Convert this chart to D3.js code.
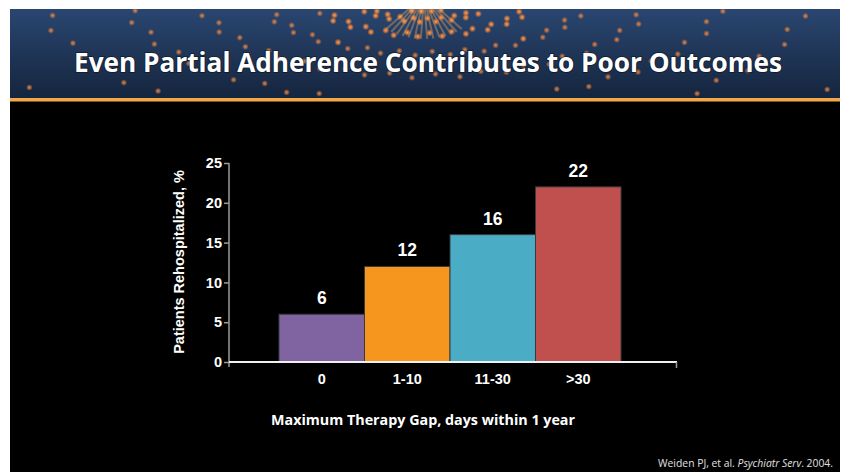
<!DOCTYPE html>
<html>
<head>
<meta charset="utf-8">
<script src="https://cdn.jsdelivr.net/npm/d3@7"></script>
<style>
  html, body { margin: 0; padding: 0; background: #fff; }
  svg { display: block; }
</style>
</head>
<body>
<svg id="chart" width="844" height="472"></svg>
<script>
// chart data
const categories = ["0", "1-10", "11-30", ">30"];
const values = [6, 12, 16, 22];
const barColors = ["#8064A2", "#F7961E", "#4BACC6", "#C0504D"];
const yTicks = [0, 5, 10, 15, 20, 25];

const svg = d3.select("#chart");

// slide background
svg.append("rect").attr("x", 10).attr("y", 9).attr("width", 830).attr("height", 463).attr("fill", "#000");

// header banner
const defs = svg.append("defs");
const grad = defs.append("linearGradient").attr("id", "hdr").attr("x1", 0).attr("y1", 0).attr("x2", 0).attr("y2", 1);
grad.append("stop").attr("offset", "0%").attr("stop-color", "#2a4670");
grad.append("stop").attr("offset", "100%").attr("stop-color", "#15253e");
const glow = defs.append("radialGradient").attr("id", "dot");
glow.append("stop").attr("offset", "0%").attr("stop-color", "#ffb060").attr("stop-opacity", 1);
glow.append("stop").attr("offset", "45%").attr("stop-color", "#e07a3a").attr("stop-opacity", 0.9);
glow.append("stop").attr("offset", "100%").attr("stop-color", "#e07a3a").attr("stop-opacity", 0);
const rayGrad = defs.append("linearGradient").attr("id", "ray").attr("x1", 0).attr("y1", 0).attr("x2", 0).attr("y2", 1);
rayGrad.append("stop").attr("offset", "0%").attr("stop-color", "#ffc070").attr("stop-opacity", 0.8);
rayGrad.append("stop").attr("offset", "100%").attr("stop-color", "#ffc070").attr("stop-opacity", 0);
defs.append("clipPath").attr("id", "hclip").append("rect")
  .attr("x", 10).attr("y", 9).attr("width", 830).attr("height", 89);

svg.append("rect").attr("x", 10).attr("y", 9).attr("width", 830).attr("height", 89).attr("fill", "url(#hdr)");

// decorative rays and dots radiating from the top centre
const hdr = svg.append("g").attr("clip-path", "url(#hclip)");
const cx = 424, cy = -6;
for (let a = 0; a < 30; a++) {
  const ang = Math.PI * (a + 0.5) / 30;
  const dx = Math.cos(ang), dy = Math.sin(ang);
  if (Math.abs(dx) < 0.7) {
    hdr.append("line")
      .attr("x1", cx + dx * 8).attr("y1", cy + dy * 8)
      .attr("x2", cx + dx * 60).attr("y2", cy + dy * 45)
      .attr("stroke", "#ffb868").attr("stroke-opacity", 0.35).attr("stroke-width", 2);
  }
  for (let r = 0; r < 16; r++) {
    const rad = 22 + r * r * 3.2 + r * 14 + (a % 2) * 6;
    const px = cx + dx * rad * 1.7;
    const py = cy + dy * rad * 0.62;
    if (py < 10 || py > 96 || px < 12 || px > 838) continue;
    const near = Math.abs(px - cx) < 100 && py < 45;
    hdr.append("circle").attr("cx", px).attr("cy", py)
      .attr("r", near ? 3.6 : 3.3).attr("fill", "url(#dot)").attr("opacity", near ? 0.95 : 0.75);
  }
}
svg.append("rect").attr("x", 10).attr("y", 98).attr("width", 830).attr("height", 3.5).attr("fill", "#F2A84A");

svg.append("text")
  .attr("x", 428).attr("y", 72)
  .attr("text-anchor", "middle")
  .attr("font-family", "'Open Sans', sans-serif").attr("font-weight", 700)
  .attr("font-size", 26).attr("fill", "#fff")
  .attr("textLength", 708).attr("lengthAdjust", "spacingAndGlyphs")
  .style("paint-order", "stroke").attr("stroke", "rgba(0,0,0,0.35)").attr("stroke-width", 2)
  .text("Even Partial Adherence Contributes to Poor Outcomes");

// scales
const x = d3.scaleBand().domain(categories).range([279, 621]).padding(0);
const y = d3.scaleLinear().domain([0, 25]).range([362, 163]);
const plotLeft = 229, plotRight = 677;

// bars
svg.append("g").selectAll("rect").data(values).join("rect")
  .attr("x", (d, i) => x(categories[i]))
  .attr("y", d => y(d))
  .attr("width", x.bandwidth())
  .attr("height", d => y(0) - y(d))
  .attr("fill", (d, i) => barColors[i])
  .attr("stroke", "#3a3a3a").attr("stroke-width", 1);

// value labels
svg.append("g").selectAll("text").data(values).join("text")
  .attr("x", (d, i) => x(categories[i]) + x.bandwidth() / 2)
  .attr("y", d => y(d) - 10)
  .attr("text-anchor", "middle")
  .attr("font-family", "'Liberation Sans', Arial, sans-serif").attr("font-weight", 700)
  .attr("font-size", 17.5).attr("fill", "#fff")
  .text(d => d);

// y axis
const yAxis = svg.append("g").attr("transform", `translate(${plotLeft},0)`)
  .call(d3.axisLeft(y).tickValues(yTicks).tickSize(5).tickSizeOuter(0));
yAxis.select(".domain").attr("stroke", "#9a9a9a").attr("stroke-width", 1.5)
  .attr("d", "M0,163V367");
yAxis.selectAll(".tick line").attr("stroke", "#9a9a9a").attr("stroke-width", 1.5);
yAxis.selectAll(".tick text")
  .attr("fill", "#fff").attr("x", -7)
  .style("font-family", "'Liberation Sans', Arial, sans-serif").style("font-weight", 700).style("font-size", "14.5px");

// x axis
const xAxis = svg.append("g").attr("transform", "translate(0,362)")
  .call(d3.axisBottom(x).tickSize(0).tickPadding(12).tickSizeOuter(0));
xAxis.select(".domain").attr("stroke", "#f0f0f0").attr("stroke-width", 2)
  .attr("d", `M${plotLeft},0H${plotRight}`);
xAxis.selectAll(".tick text")
  .attr("fill", "#fff")
  .style("font-family", "'Liberation Sans', Arial, sans-serif").style("font-weight", 700).style("font-size", "14.5px");
xAxis.append("line").attr("x1", plotRight - 0.5).attr("x2", plotRight - 0.5).attr("y1", 0).attr("y2", 6)
  .attr("stroke", "#9a9a9a").attr("stroke-width", 1.5);

// axis titles
svg.append("text")
  .attr("transform", "translate(184,262) rotate(-90)")
  .attr("text-anchor", "middle")
  .attr("font-family", "'Liberation Sans', Arial, sans-serif").attr("font-weight", 700)
  .attr("font-size", 14.5).attr("fill", "#fff")
  .text("Patients Rehospitalized, %");

svg.append("text")
  .attr("x", 423).attr("y", 425)
  .attr("text-anchor", "middle")
  .attr("font-family", "'Open Sans', sans-serif").attr("font-weight", 700)
  .attr("font-size", 14).attr("fill", "#fff")
  .attr("textLength", 304).attr("lengthAdjust", "spacingAndGlyphs")
  .text("Maximum Therapy Gap, days within 1 year");

// source note
const note = svg.append("text")
  .attr("x", 833).attr("y", 467)
  .attr("text-anchor", "end")
  .attr("font-family", "'Open Sans', sans-serif")
  .attr("font-size", 10).attr("fill", "#e0e0e0")
  .attr("textLength", 175).attr("lengthAdjust", "spacingAndGlyphs");
note.append("tspan").text("Weiden PJ, et al. ");
note.append("tspan").attr("font-style", "italic").text("Psychiatr Serv");
note.append("tspan").text(". 2004.");
</script>
</body>
</html>
